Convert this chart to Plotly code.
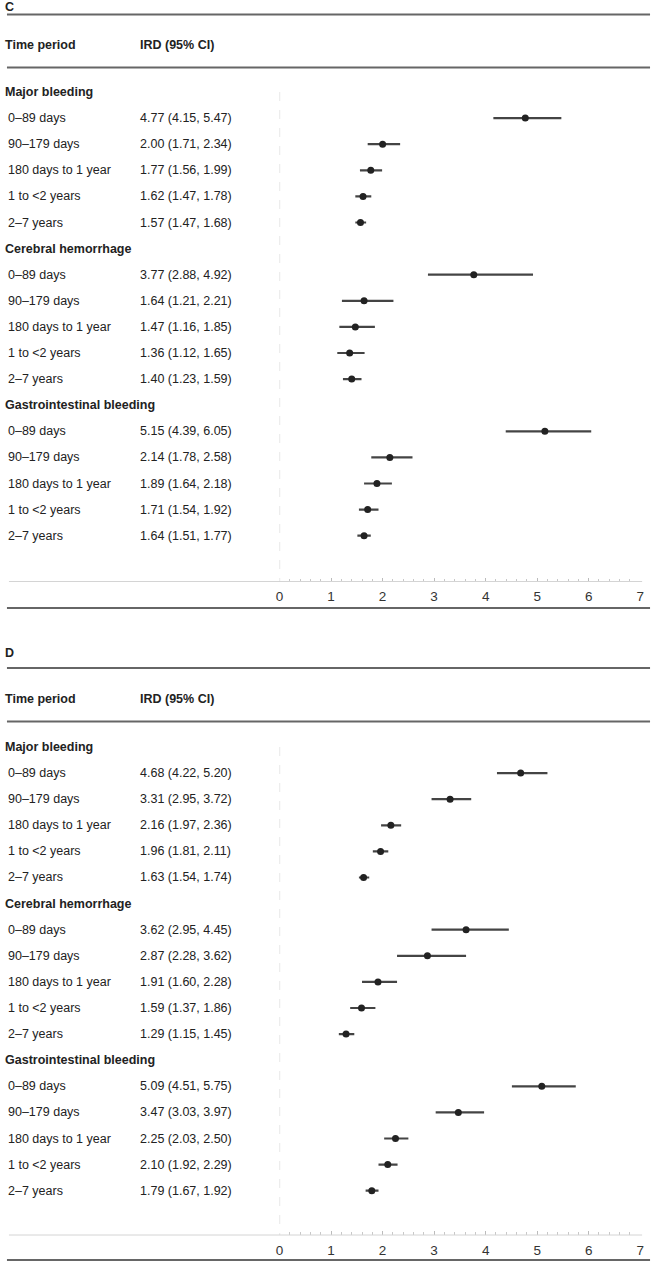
import plotly.graph_objects as go

# ---------------- data ----------------
periods = ["0–89 days", "90–179 days", "180 days to 1 year", "1 to <2 years", "2–7 years"]
outcomes = ["Major bleeding", "Cerebral hemorrhage", "Gastrointestinal bleeding"]
tick_vals = [0, 1, 2, 3, 4, 5, 6, 7]

# Panel C
c_mb_est = [4.77, 2.00, 1.77, 1.62, 1.57]
c_mb_lo = [4.15, 1.71, 1.56, 1.47, 1.47]
c_mb_hi = [5.47, 2.34, 1.99, 1.78, 1.68]
c_ch_est = [3.77, 1.64, 1.47, 1.36, 1.40]
c_ch_lo = [2.88, 1.21, 1.16, 1.12, 1.23]
c_ch_hi = [4.92, 2.21, 1.85, 1.65, 1.59]
c_gi_est = [5.15, 2.14, 1.89, 1.71, 1.64]
c_gi_lo = [4.39, 1.78, 1.64, 1.54, 1.51]
c_gi_hi = [6.05, 2.58, 2.18, 1.92, 1.77]

# Panel D
d_mb_est = [4.68, 3.31, 2.16, 1.96, 1.63]
d_mb_lo = [4.22, 2.95, 1.97, 1.81, 1.54]
d_mb_hi = [5.20, 3.72, 2.36, 2.11, 1.74]
d_ch_est = [3.62, 2.87, 1.91, 1.59, 1.29]
d_ch_lo = [2.95, 2.28, 1.60, 1.37, 1.15]
d_ch_hi = [4.45, 3.62, 2.28, 1.86, 1.45]
d_gi_est = [5.09, 3.47, 2.25, 2.10, 1.79]
d_gi_lo = [4.51, 3.03, 2.03, 1.92, 1.67]
d_gi_hi = [5.75, 3.97, 2.50, 2.29, 1.92]

panels = [
    ("C", [(c_mb_est, c_mb_lo, c_mb_hi), (c_ch_est, c_ch_lo, c_ch_hi), (c_gi_est, c_gi_lo, c_gi_hi)]),
    ("D", [(d_mb_est, d_mb_lo, d_mb_hi), (d_ch_est, d_ch_lo, d_ch_hi), (d_gi_est, d_gi_lo, d_gi_hi)]),
]

# ---------------- layout constants (pixels) ----------------
W, H = 657, 1264
FONT = "Liberation Sans, Arial, Helvetica, sans-serif"
FS = 12.5
TXT = "#222222"
ROW = 26.1
X0_PX, X7_PX = 279, 644
X_HEAD, X_ROW, X_IRD = -1, 2, 136

geom = [
    dict(letter=7, top=14.5, head=44.5, hline=67.5, first=92, axis=581.5, bottom=608, dtop=0),
    dict(letter=653, top=668, head=698.5, hline=721.5, first=747, axis=1235, bottom=1260, dtop=620),
]


def py(px):
    return 1 - px / H


def pxx(px):
    return px / W


fig = go.Figure()
shapes = []
annotations = []
layout_axes = {}

for pi, (letter, groups) in enumerate(panels):
    g = geom[pi]
    sfx = "" if pi == 0 else str(pi + 1)
    xname, yname = "x" + sfx, "y" + sfx
    r_top = (g["dtop"] - g["first"]) / ROW
    r_bot = (g["axis"] - g["first"]) / ROW

    layout_axes["xaxis" + sfx] = dict(
        domain=[X0_PX / W, X7_PX / W], range=[0, 7], anchor=yname,
        tickvals=tick_vals, ticktext=[str(v) for v in tick_vals],
        ticks="inside", ticklen=4, tickcolor="#bbbbbb", tickwidth=1,
        minor=dict(dtick=0.2, ticks="inside", ticklen=3, tickcolor="#c8c8c8", showgrid=False),
        showgrid=False, zeroline=False, showline=False,
        tickfont=dict(family=FONT, size=13.5, color="#333333"),
        ticklabelstandoff=5, fixedrange=True,
    )
    layout_axes["yaxis" + sfx] = dict(
        domain=[py(g["axis"]), py(g["dtop"])], range=[r_bot, r_top],
        visible=False, fixedrange=True,
    )

    annotations.append(dict(text="<b>%s</b>" % letter, x=pxx(X_HEAD), y=py(g["letter"]), xref="paper", yref="paper",
                            xanchor="left", yanchor="middle", showarrow=False,
                            font=dict(family=FONT, size=FS, color=TXT)))
    annotations.append(dict(text="<b>Time period</b>", x=pxx(X_HEAD), y=py(g["head"]), xref="paper", yref="paper",
                            xanchor="left", yanchor="middle", showarrow=False,
                            font=dict(family=FONT, size=FS, color=TXT)))
    annotations.append(dict(text="<b>IRD (95% CI)</b>", x=pxx(X_IRD), y=py(g["head"]), xref="paper", yref="paper",
                            xanchor="left", yanchor="middle", showarrow=False,
                            font=dict(family=FONT, size=FS, color=TXT)))
    for ly in (g["top"], g["hline"], g["bottom"]):
        shapes.append(dict(type="line", xref="paper", yref="paper", x0=pxx(3), x1=pxx(654), y0=py(ly), y1=py(ly),
                           line=dict(color="#666666", width=2)))
    shapes.append(dict(type="line", xref="paper", yref=yname + " domain", x0=pxx(5), x1=pxx(646), y0=0, y1=0,
                       line=dict(color="#d4d4d4", width=1)))
    shapes.append(dict(type="line", xref=xname, yref=yname, x0=0, x1=0, y0=0, y1=r_bot,
                       line=dict(color="#cccccc", width=1, dash="dash")))

    ys, est_all, lo_all, hi_all = [], [], [], []
    for gi, (est, lo, hi) in enumerate(groups):
        base = gi * 6
        annotations.append(dict(text="<b>%s</b>" % outcomes[gi], x=pxx(X_HEAD), y=base, xref="paper", yref=yname,
                                xanchor="left", yanchor="middle", showarrow=False,
                                font=dict(family=FONT, size=FS, color=TXT)))
        for k in range(5):
            r = base + 1 + k
            annotations.append(dict(text=periods[k], x=pxx(X_ROW), y=r, xref="paper", yref=yname,
                                    xanchor="left", yanchor="middle", showarrow=False,
                                    font=dict(family=FONT, size=FS, color=TXT)))
            annotations.append(dict(text="%.2f (%.2f, %.2f)" % (est[k], lo[k], hi[k]), x=pxx(X_IRD), y=r,
                                    xref="paper", yref=yname, xanchor="left", yanchor="middle", showarrow=False,
                                    font=dict(family=FONT, size=FS, color=TXT)))
            ys.append(r)
            est_all.append(est[k])
            lo_all.append(lo[k])
            hi_all.append(hi[k])

    fig.add_trace(go.Scatter(
        x=est_all, y=ys, xaxis=xname, yaxis=yname, mode="markers",
        marker=dict(size=7, color="#222222", symbol="circle"),
        error_x=dict(type="data", symmetric=False,
                     array=[h - e for h, e in zip(hi_all, est_all)],
                     arrayminus=[e - l for e, l in zip(est_all, lo_all)],
                     thickness=2.2, width=0, color="#444444"),
        showlegend=False, hoverinfo="skip",
    ))

fig.update_layout(
    width=W, height=H, margin=dict(l=0, r=0, t=0, b=0),
    paper_bgcolor="white", plot_bgcolor="white",
    shapes=shapes, annotations=annotations, showlegend=False,
    **layout_axes,
)

fig.write_html(
    "out.html",
    config={"displayModeBar": False},
    post_script="document.body.style.margin='0';document.body.style.padding='0';document.body.style.overflow='hidden';",
)
